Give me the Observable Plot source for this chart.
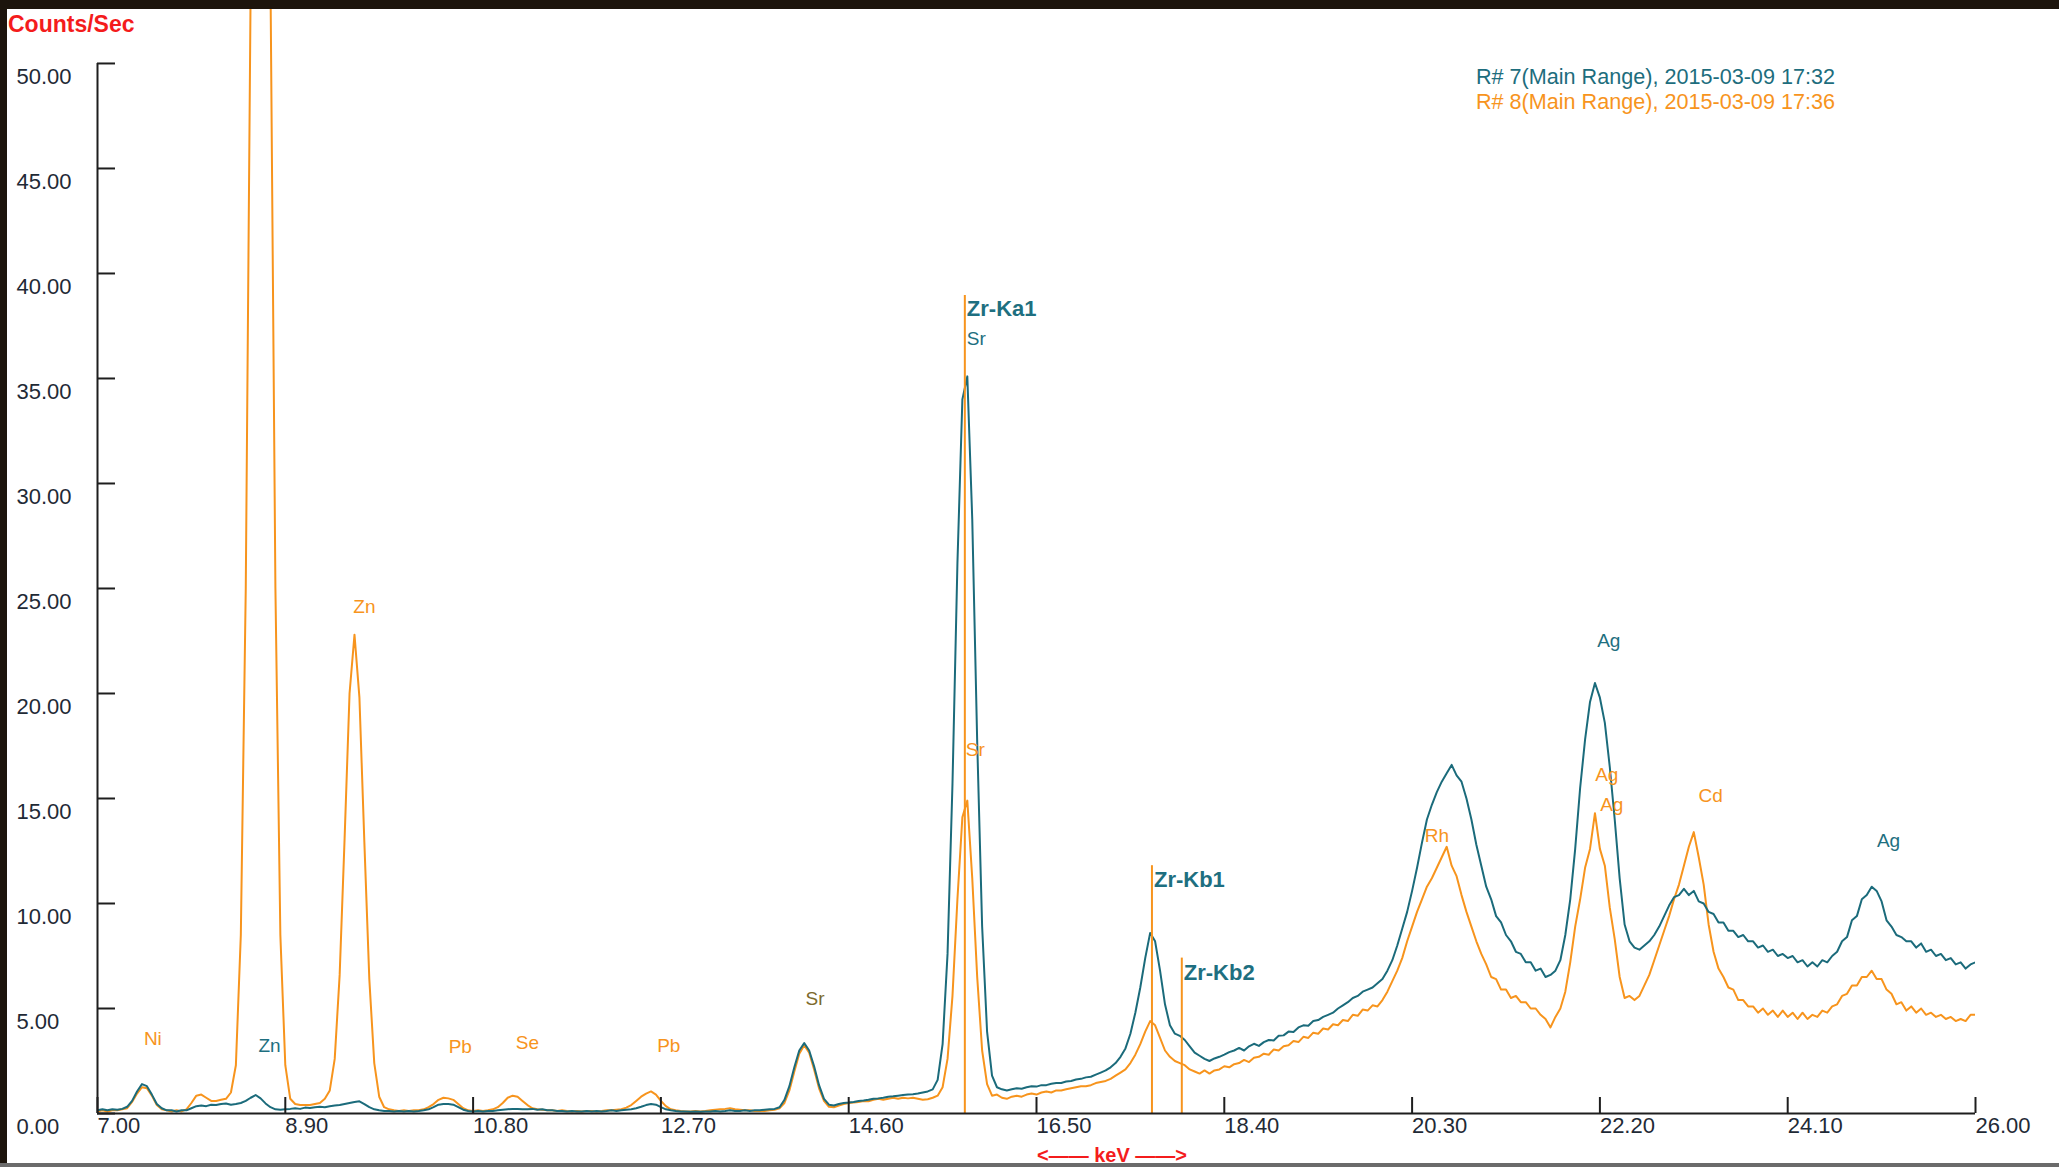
<!DOCTYPE html>
<html><head><meta charset="utf-8">
<script src="https://cdn.jsdelivr.net/npm/d3@7"></script>
<script src="https://cdn.jsdelivr.net/npm/@observablehq/plot@0.6"></script>
<style>
html,body{margin:0;padding:0;background:#fff;overflow:hidden}
#wrap{position:relative;width:2059px;height:1167px;background:#fff}
#chart{position:absolute;left:0;top:0}
.ov{position:absolute;font-family:"Liberation Sans",Arial,sans-serif;white-space:nowrap}
.frame{position:absolute;background:#1c140c}
</style></head><body>
<div id="wrap">
<div id="chart"></div>
<div class="frame" style="left:0;top:0;width:2059px;height:9px"></div>
<div class="frame" style="left:0;top:0;width:7px;height:1167px"></div>
<div class="frame" style="left:0;top:1163px;width:2059px;height:4px;background:#6b6b6b"></div>
<div class="ov" style="left:8px;top:12px;font-size:23px;line-height:24px;font-weight:bold;color:#f41c1c">Counts/Sec</div>
<div class="ov" style="left:1476px;top:64px;font-size:21.6px;line-height:25px;color:#1d6d7d">R# 7(Main Range), 2015-03-09 17:32</div>
<div class="ov" style="left:1476px;top:89px;font-size:21.6px;line-height:25px;color:#f7941d">R# 8(Main Range), 2015-03-09 17:36</div>
<div class="ov" style="left:987px;top:1143px;width:250px;text-align:center;font-size:20px;line-height:24px;font-weight:bold;color:#f41c1c">&lt;—— keV ——&gt;</div>
</div>
<script>
// detector channel calibration
const keVStart = 7.0, keVStep = 0.05;

// R# 7 (teal) counts/sec, one row per keV (20 channels of 0.05 keV)
const r7 = [
 0.15,0.2,0.15,0.2,0.18,0.22,0.32,0.6,1.05,1.4,1.3,0.9,0.45,0.25,0.15,0.15,0.1,0.15,0.15,0.25,
 0.35,0.38,0.35,0.42,0.4,0.45,0.48,0.42,0.45,0.5,0.6,0.75,0.88,0.72,0.48,0.3,0.2,0.18,0.2,0.22,
 0.25,0.22,0.28,0.26,0.3,0.32,0.3,0.35,0.38,0.4,0.45,0.5,0.55,0.58,0.45,0.3,0.2,0.15,0.12,0.12,
 0.1,0.12,0.1,0.12,0.1,0.12,0.15,0.2,0.3,0.42,0.45,0.45,0.42,0.3,0.18,0.12,0.1,0.12,0.1,0.12,
 0.12,0.15,0.18,0.2,0.22,0.22,0.2,0.2,0.22,0.18,0.2,0.15,0.15,0.12,0.12,0.1,0.12,0.1,0.1,0.12,
 0.1,0.12,0.1,0.12,0.15,0.12,0.15,0.18,0.2,0.25,0.32,0.4,0.45,0.42,0.3,0.2,0.15,0.12,0.1,0.1,
 0.08,0.1,0.08,0.1,0.1,0.12,0.1,0.12,0.15,0.12,0.12,0.15,0.12,0.15,0.15,0.18,0.2,0.22,0.3,0.65,
 1.3,2.2,3.0,3.35,3.0,2.25,1.35,0.7,0.42,0.38,0.45,0.5,0.52,0.55,0.6,0.62,0.65,0.7,0.72,0.75,
 0.8,0.82,0.85,0.88,0.9,0.92,0.95,1.0,1.05,1.15,1.6,3.3,7.6,15.7,26.2,34.0,35.1,28.3,17.7,8.9,
 3.9,1.8,1.25,1.15,1.1,1.15,1.2,1.18,1.25,1.3,1.28,1.35,1.35,1.42,1.45,1.45,1.52,1.55,1.62,1.65,
 1.72,1.75,1.85,1.95,2.05,2.2,2.4,2.7,3.1,3.8,4.8,6.0,7.4,8.6,8.2,6.8,5.2,4.2,3.8,3.7,
 3.5,3.2,2.9,2.75,2.6,2.5,2.62,2.7,2.8,2.92,3.0,3.12,3.0,3.2,3.32,3.22,3.4,3.5,3.48,3.7,
 3.72,3.9,3.88,4.1,4.2,4.18,4.4,4.45,4.6,4.7,4.8,5.0,5.15,5.3,5.5,5.6,5.8,5.9,6.0,6.2,
 6.4,6.8,7.3,8.0,8.8,9.6,10.6,11.7,12.9,14.0,14.7,15.3,15.8,16.2,16.6,16.1,15.8,15.0,14.0,12.8,
 11.8,10.8,10.2,9.4,9.1,8.5,8.2,7.7,7.6,7.2,7.2,6.8,6.9,6.5,6.6,6.8,7.3,8.5,10.2,12.6,
 15.5,17.8,19.6,20.5,19.8,18.6,16.5,14.0,11.2,9.0,8.2,7.9,7.8,8.0,8.2,8.5,8.9,9.4,9.9,10.3,
 10.4,10.7,10.4,10.6,10.1,10.0,9.6,9.5,9.1,9.1,8.7,8.7,8.4,8.5,8.2,8.2,7.9,8.0,7.7,7.8,
 7.5,7.6,7.4,7.5,7.2,7.3,7.0,7.2,7.0,7.3,7.2,7.5,7.7,8.2,8.4,9.2,9.4,10.2,10.4,10.8,
 10.6,10.1,9.2,8.9,8.5,8.4,8.2,8.2,7.9,8.1,7.7,7.8,7.5,7.6,7.3,7.4,7.1,7.2,6.9,7.1,
 7.2
];

// R# 8 (orange) counts/sec
const r8 = [
 0.1,0.15,0.1,0.15,0.15,0.2,0.25,0.55,0.95,1.25,1.2,0.85,0.4,0.2,0.15,0.1,0.15,0.1,0.2,0.5,
 0.85,0.9,0.75,0.6,0.6,0.65,0.7,1.0,2.3,8.5,25,54,86,100,86,54,25,8.5,2.3,0.7,
 0.45,0.4,0.4,0.4,0.45,0.5,0.7,1.1,2.6,6.6,13.1,20.0,22.8,19.8,12.9,6.4,2.4,0.8,0.3,0.2,
 0.15,0.12,0.15,0.12,0.15,0.15,0.2,0.3,0.45,0.65,0.75,0.72,0.65,0.45,0.25,0.15,0.12,0.15,0.12,0.15,
 0.2,0.3,0.5,0.75,0.85,0.8,0.6,0.4,0.25,0.2,0.18,0.15,0.15,0.12,0.15,0.12,0.1,0.12,0.1,0.12,
 0.12,0.1,0.12,0.15,0.15,0.18,0.2,0.28,0.4,0.6,0.8,0.95,1.05,0.9,0.6,0.35,0.2,0.15,0.12,0.1,
 0.1,0.12,0.1,0.12,0.15,0.18,0.2,0.22,0.25,0.2,0.18,0.15,0.15,0.12,0.12,0.12,0.15,0.18,0.25,0.5,
 1.1,2.0,2.85,3.25,2.9,2.1,1.2,0.6,0.32,0.3,0.38,0.45,0.5,0.52,0.55,0.6,0.58,0.65,0.7,0.65,
 0.7,0.75,0.7,0.75,0.72,0.75,0.7,0.65,0.68,0.75,0.85,1.25,2.6,5.6,10.2,14.1,14.9,11.2,6.5,3.0,
 1.4,0.85,0.9,0.75,0.7,0.8,0.85,0.8,0.9,0.95,0.9,1.0,1.05,1.0,1.1,1.1,1.15,1.2,1.25,1.3,
 1.3,1.35,1.45,1.5,1.55,1.65,1.8,1.95,2.1,2.4,2.8,3.3,3.9,4.4,4.2,3.6,3.0,2.7,2.5,2.4,
 2.3,2.1,2.0,1.9,2.05,1.9,2.05,2.1,2.25,2.2,2.35,2.4,2.55,2.45,2.65,2.7,2.85,2.8,3.05,3.0,
 3.2,3.25,3.45,3.4,3.65,3.6,3.85,3.8,4.05,4.0,4.25,4.2,4.45,4.4,4.7,4.65,4.95,4.9,5.15,5.1,
 5.4,5.8,6.3,6.8,7.4,8.2,8.9,9.6,10.2,10.8,11.2,11.7,12.2,12.7,11.8,11.3,10.4,9.6,8.9,8.2,
 7.6,7.1,6.5,6.4,5.9,5.9,5.5,5.6,5.3,5.3,5.0,5.0,4.7,4.5,4.1,4.6,5.0,5.8,7.2,8.9,
 10.2,11.7,12.6,14.3,12.6,11.8,9.8,8.3,6.5,5.5,5.6,5.4,5.6,6.1,6.6,7.3,8.0,8.7,9.4,10.2,
 10.9,11.8,12.7,13.4,12.2,10.9,9.0,7.7,6.9,6.5,6.0,5.9,5.4,5.4,5.1,5.1,4.8,5.0,4.7,4.9,
 4.6,4.9,4.6,4.8,4.5,4.8,4.5,4.7,4.6,4.9,4.8,5.1,5.2,5.6,5.7,6.1,6.1,6.5,6.5,6.8,
 6.4,6.4,5.9,5.7,5.2,5.3,4.9,5.1,4.8,5.0,4.7,4.8,4.6,4.7,4.5,4.6,4.4,4.5,4.4,4.7,
 4.7
];

// axes
const xTicks = [7.00, 8.90, 10.80, 12.70, 14.60, 16.50, 18.40, 20.30, 22.20, 24.10, 26.00];
const yTicks = [0, 5, 10, 15, 20, 25, 30, 35, 40, 45, 50];

// line markers (Zr lines)
const markerNames = ["Zr-Ka1", "Zr-Kb1", "Zr-Kb2"];
const markerKeV   = [15.775, 17.668, 17.97];
const markerTop   = [38.95, 11.8, 7.4];
const markerLabelY = [38.3, 11.1, 6.7];

// element labels
const labelText   = ["Ni", "Zn", "Pb", "Se", "Pb", "Sr", "Rh", "Ag", "Ag", "Cd", "Zn", "Sr", "Sr", "Ag", "Ag"];
const labelKeV    = [7.56, 9.70, 10.67, 11.35, 12.78, 15.88, 20.55, 22.27, 22.32, 23.32, 8.74, 14.26, 15.89, 22.29, 25.12];
const labelCounts = [3.54, 24.1, 3.17, 3.35, 3.23, 17.3, 13.2, 16.1, 14.7, 15.1, 3.23, 5.48, 36.9, 22.5, 13.0];
const labelSeries = ["R8","R8","R8","R8","R8","R8","R8","R8","R8","R8","R7","both","R7","R7","R7"];

const teal = "#1b6b7b", orange = "#f7941d", olive = "#7d6a2c";
const labelColor = {R7: "#1e6f80", R8: orange, both: olive};

const toRows = (arr, series) => arr.map((v, i) => ({keV: keVStart + i * keVStep, counts: v, series}));
const rows7 = toRows(r7, "R7");
const rows8 = toRows(r8, "R8");
const labels = labelText.map((t, i) => ({t, x: labelKeV[i], y: labelCounts[i], s: labelSeries[i]}));
const markers = markerNames.map((n, i) => ({n, x: markerKeV[i], top: markerTop[i], ly: markerLabelY[i]}));

const W = 2059, H = 1167, mL = 97, mR = 84, mT = 9, mB = 54;
const fw = W - mL - mR, fh = H - mT - mB;
const font = "Liberation Sans, Arial, sans-serif";
const axisColor = "#1e1e1e", tickText = "#1f2a36";

const chart = Plot.plot({
  width: W, height: H,
  marginLeft: mL, marginRight: mR, marginTop: mT, marginBottom: mB,
  x: {domain: [7, 26], axis: null},
  y: {domain: [0, 52.57], axis: null},
  style: {background: "transparent", fontFamily: font, overflow: "visible"},
  marks: [
    Plot.line(rows8, {x: "keV", y: "counts", stroke: orange, strokeWidth: 2, clip: true}),
    Plot.line(rows7, {x: "keV", y: "counts", stroke: teal, strokeWidth: 2, clip: true}),
    Plot.ruleX(markers, {x: "x", y1: 0, y2: "top", stroke: orange, strokeWidth: 2}),
    Plot.ruleY([0], {x1: 7, x2: 26, stroke: axisColor, strokeWidth: 2}),
    Plot.ruleX([7], {y1: 0, y2: 50, stroke: axisColor, strokeWidth: 2}),
    Plot.tickY(yTicks, {y: d => d, stroke: axisColor, strokeWidth: 2, insetRight: fw - 18}),
    Plot.tickX(xTicks, {x: d => d, stroke: axisColor, strokeWidth: 2, insetTop: fh - 16}),
    Plot.text(yTicks, {y: d => d, text: d => d.toFixed(2), frameAnchor: "left", dx: -81, dy: 13,
      textAnchor: "start", fontSize: 22, fill: tickText}),
    Plot.text(xTicks, {x: d => d, text: d => d.toFixed(2), frameAnchor: "bottom", dy: 19,
      textAnchor: "start", fontSize: 22, fill: tickText}),
    Plot.text(labels, {x: "x", y: "y", text: "t", fill: d => labelColor[d.s], fontSize: 19}),
    Plot.text(markers, {x: "x", y: "ly", text: "n", dx: 2, textAnchor: "start", fill: "#1e6f80",
      fontSize: 22, fontWeight: "bold"})
  ]
});
document.getElementById("chart").appendChild(chart);
</script>
</body></html>
